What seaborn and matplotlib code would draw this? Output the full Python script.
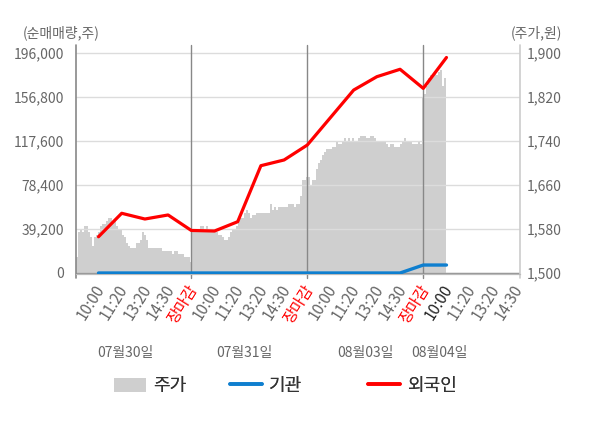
import numpy as np
import matplotlib
matplotlib.use("Agg")
import matplotlib.pyplot as plt
import matplotlib.transforms as mtrans
import seaborn as sns
from matplotlib.patches import Patch
from matplotlib.lines import Line2D

# x축 라벨 (각 날짜별 시간대)
tick_labels = ["10:00", "11:20", "13:20", "14:30", "장마감",
               "10:00", "11:20", "13:20", "14:30", "장마감",
               "10:00", "11:20", "13:20", "14:30", "장마감",
               "10:00", "11:20", "13:20", "14:30"]
dates = ["07월30일", "07월31일", "08월03일", "08월04일"]

# 누적 순매매량 (주)
foreign = [32300, 53200, 48100, 51700, 37900, 37400, 45700, 95600,
           100700, 114000, 138500, 163000, 174900, 181500, 164500, 192000]
inst = [0, 0, 0, 0, 0, 0, 0, 0, 0, 0, 0, 0, 0, 0, 7100, 7100]

# 주가 (원), 분 단위
price_0730 = [1530, 1575, 1580, 1575, 1585, 1585, 1575, 1565, 1550, 1565,
              1570, 1575, 1585, 1590, 1590, 1595, 1600, 1600, 1595, 1595,
              1585, 1580, 1580, 1570, 1565, 1555, 1550, 1545, 1545, 1545,
              1555, 1555, 1560, 1575, 1570, 1560, 1545, 1545, 1545, 1545,
              1545, 1545, 1545, 1540, 1540, 1540, 1540, 1540, 1535, 1540,
              1540, 1535, 1535, 1535, 1530, 1530, 1530, 1520]
price_0731 = [1575, 1575, 1580, 1580, 1585, 1585, 1580, 1585, 1580, 1580,
              1580, 1575, 1575, 1570, 1570, 1565, 1560, 1560, 1565, 1575,
              1580, 1580, 1585, 1595, 1600, 1600, 1610, 1615, 1610, 1600,
              1605, 1605, 1610, 1610, 1610, 1610, 1610, 1610, 1610, 1625,
              1615, 1620, 1615, 1620, 1620, 1620, 1620, 1620, 1625, 1625,
              1625, 1620, 1625, 1625]
price_0803 = [1640, 1670, 1670, 1675, 1675, 1660, 1670, 1670, 1690, 1700,
              1705, 1715, 1720, 1725, 1725, 1725, 1730, 1730, 1740, 1735,
              1735, 1740, 1745, 1740, 1745, 1740, 1745, 1740, 1740, 1745,
              1750, 1750, 1750, 1745, 1745, 1750, 1750, 1745, 1740, 1740,
              1740, 1740, 1740, 1735, 1730, 1735, 1735, 1730, 1730, 1730,
              1735, 1740, 1745, 1740, 1740, 1740, 1735, 1735, 1735, 1740,
              1735]
price_0804 = [1820, 1825, 1840, 1855, 1860, 1860, 1865, 1860, 1865, 1870,
              1840, 1855]

RED = "#ff0000"
BLUE = "#0f7fcf"
AREA = "#cfcfcf"
FONT = ["Noto Sans CJK KR", "DejaVu Sans"]

sns.set_style("white")
plt.rcParams["font.family"] = FONT

fig = plt.figure(figsize=(6, 4.28), dpi=100)
ax = fig.add_axes([76 / 600, 1 - 274 / 428, 444 / 600, 222.3 / 428])
ax2 = ax.twinx()
ax.set_zorder(2)
ax2.set_zorder(1)
ax.patch.set_visible(False)
ax2.patch.set_facecolor("#f4f4f4")

XL, XR = -0.97, 18.17
step = 2 / 23.2

# 주가 영역
price = np.array(price_0730 + price_0731 + price_0803 + price_0804)
xs = XL + np.arange(len(price) + 1) * step
ax2.fill_between(xs, np.append(price, price[-1]), 1400, step="post",
                 color=AREA, lw=0)
ax2.set_ylim(1500 - 80 / 44, 1900 + 1.3 * 80 / 44)
ax2.set_yticks(np.arange(1500, 1901, 80))
ax2.set_yticklabels([f"{v:,}" for v in np.arange(1500, 1901, 80)])

# 순매매량 라인
idx = np.arange(len(foreign))
sns.lineplot(x=idx, y=inst, ax=ax, color=BLUE, lw=2.4, zorder=3)
sns.lineplot(x=idx, y=foreign, ax=ax, color=RED, lw=2.3, zorder=4)

ax.set_xlim(XL, XR)
ax.set_ylim(-39200 / 44, 196000 + 1.3 * 39200 / 44)
yt = np.arange(0, 196001, 39200)
ax.set_yticks(yt)
ax.set_yticklabels([f"{v:,}" for v in yt])
ax.yaxis.grid(True, color="#dcdcdc", lw=1)
ax.xaxis.grid(False)
ax.set_axisbelow(True)
ax.axhline(0, color="#999999", lw=1, zorder=1)

# 날짜 구분선
for k in [4, 9, 14]:
    ax.axvline(k, ymin=-0.018, ymax=1.03, color="#888888", lw=1,
               clip_on=False, zorder=2)
ax.axvline(XL, ymin=-0.018, ymax=1.03, color="#888888", lw=1.2,
           clip_on=False, zorder=2)
ax.axvline(XR, ymin=-0.018, ymax=1.03, color="#cccccc", lw=1.2,
           clip_on=False, zorder=2)

for a in (ax, ax2):
    for s in ["top", "left", "right"]:
        a.spines[s].set_visible(False)
    a.spines["bottom"].set_color("#bbbbbb")
    a.tick_params(length=0, labelsize=10, labelcolor="#666666")
ax.tick_params(axis="y", pad=8.5)
ax2.tick_params(axis="y", pad=5)

ax.set_xticks(range(len(tick_labels)))
ax.set_xticklabels(tick_labels, rotation=58, ha="right",
                   rotation_mode="anchor", va="center", fontsize=11)
ax.tick_params(axis="x", pad=9)
shift = mtrans.ScaledTranslation(2 / 72, 0, fig.dpi_scale_trans)
for i, t in enumerate(ax.get_xticklabels()):
    t.set_transform(t.get_transform() + shift)
    if tick_labels[i] == "장마감":
        t.set_color(RED)
    elif i == 15:
        t.set_color("#222222")
    else:
        t.set_color("#666666")

# 날짜 라벨
date_pos = [1.15, 6.3, 11.5, 14.7]
trans = mtrans.blended_transform_factory(ax.transData, fig.transFigure)
for p, d in zip(date_pos, dates):
    ax.text(p, 1 - 353 / 428, d, transform=trans,
            ha="center", va="center", fontsize=10, color="#666666")

fig.text(23 / 600, 1 - 33 / 428, "(순매매량,주)", ha="left", va="center",
         fontsize=10, color="#666666")
fig.text(562 / 600, 1 - 33 / 428, "(주가,원)", ha="right", va="center",
         fontsize=10, color="#666666")

# 범례
items = [
    (Patch(facecolor=AREA, edgecolor="none"), "주가", 114),
    (Line2D([], [], color=BLUE, lw=2.6), "기관", 230),
    (Line2D([], [], color=RED, lw=2.6), "외국인", 368),
]
for h, lab, xp in items:
    lg = fig.legend([h], [lab], loc="center left",
                    bbox_to_anchor=(xp / 600, 1 - 386 / 428),
                    frameon=False, borderpad=0, borderaxespad=0,
                    handlelength=1.78, handleheight=0.8, handletextpad=0.4,
                    prop={"family": FONT, "size": 13})
    for t in lg.get_texts():
        t.set_color("#333333")
    fig.add_artist(lg)

fig.savefig("out.png", dpi=100)
